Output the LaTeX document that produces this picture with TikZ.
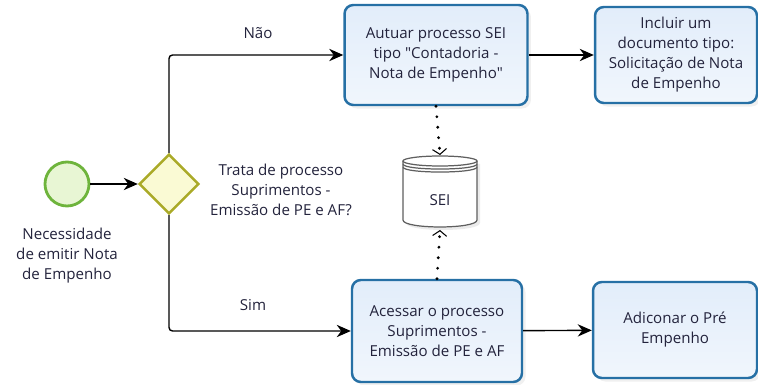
\documentclass[tikz,border=0pt]{standalone}
\usepackage{fontspec}
\setmainfont{Open Sans}[Ligatures=TeXOff]
\usetikzlibrary{arrows.meta,shapes.geometric,shadows}

\definecolor{taskline}{RGB}{38,112,165}
\definecolor{taskfill}{RGB}{226,237,250}
\definecolor{gwline}{RGB}{170,170,40}
\definecolor{gwfill}{RGB}{250,250,212}
\definecolor{evline}{RGB}{110,180,60}
\definecolor{evfill}{RGB}{232,246,212}
\definecolor{txt}{RGB}{35,35,60}
\definecolor{storeline}{RGB}{95,95,95}

\tikzset{
	every node/.style={font=\fontsize{8.6}{11.4}\selectfont, text=txt},
	task/.style={draw=taskline, line width=1.4pt, rounded corners=5pt, top color=taskfill, bottom color=taskfill!50, align=center, inner sep=2pt, drop shadow={opacity=0.12, shadow xshift=2pt, shadow yshift=-2pt}},
	flow/.style={-{Stealth[length=8pt,width=7pt]}, line width=0.8pt},
	assoc/.style={line width=1.8pt, line cap=round, dash pattern=on 0pt off 6pt, -{Straight Barb[length=3pt,width=8pt,line width=0.6pt]}},
	lbl/.style={align=center},
}

\begin{document}
\begin{tikzpicture}[x=0.02cm, y=-0.02cm]
			\useasboundingbox (0,0) rectangle (758,385);
			%%%%%%%%%%%%%%%%%%%%%%%%%%%%%%%%
			\node[circle, minimum size=0.88cm, draw=evline, line width=1.6pt, fill=evfill] (start) at (67,184){};
			\node[lbl] (startlbl) at (67,256){Necessidade\\de emitir Nota\\de Empenho};
			\node[diamond, minimum width=1.2cm, minimum height=1.2cm, inner sep=0pt, draw=gwline, line width=1.4pt, fill=gwfill] (gw) at (169,184){};
			\node[lbl] (gwlbl) at (281,190){Trata de processo\\Suprimentos -\\Emissão de PE e AF?};
			%%%%%%%%%%%%%%%%%%%%%%%%%%%%%%%%
			\node[task, minimum width=3.66cm, minimum height=2cm] (b1) at (436,55){Autuar processo SEI\\tipo "Contadoria -\\Nota de Empenho"};
			\node[task, minimum width=3.24cm, minimum height=1.92cm] (b2) at (676,55){Incluir um\\documento tipo:\\Solicitação de Nota\\de Empenho};
			\node[task, minimum width=3.4cm, minimum height=2.04cm] (b3) at (437,331){Acessar o processo\\Suprimentos -\\Emissão de PE e AF};
			\node[task, minimum width=3.28cm, minimum height=1.92cm] (b4) at (675,330){Adiconar o Pré\\Empenho};
			%%%%%%%%%%%%%%%%%%%%%%%%%%%%%
			\fill[black, opacity=0.08] (406,164)--(406,223) .. controls (406,232.3) and (480,232.3) .. (480,223)--(480,164)--cycle;
			\draw[storeline, fill=white, line width=0.7pt] (403,161)--(403,220) .. controls (403,229.3) and (477,229.3) .. (477,220)--(477,161);
			\draw[storeline, fill=white, line width=0.7pt] (440,161) ellipse [x radius=37, y radius=5];
			\draw[storeline, line width=0.7pt] (403,164) .. controls (403,170.7) and (477,170.7) .. (477,164);
			\draw[storeline, line width=0.7pt] (403,167) .. controls (403,173.7) and (477,173.7) .. (477,167);
			\node (store) at (440,200){SEI};
			\coordinate (storetop) at (440,155);
			\coordinate (storebot) at (440,230);
			%%%%%%%%%%%%%%%%%%%%%%%%%%%%%
			\draw[flow] (start)--(gw);
			\draw[flow, rounded corners=2pt] (gw.north) |- (b1);
			\draw[flow, rounded corners=2pt] (gw.south) |- (b3);
			\draw[flow] (b1)--(b2);
			\draw[flow] (b3)--(b4);
			\node (nao) at (258,33){Não};
			\node (sim) at (253,305){Sim};
			\draw[assoc] (b1.south)--(storetop);
			\draw[assoc] (b3.north)--(storebot);
		\end{tikzpicture}
\end{document}
